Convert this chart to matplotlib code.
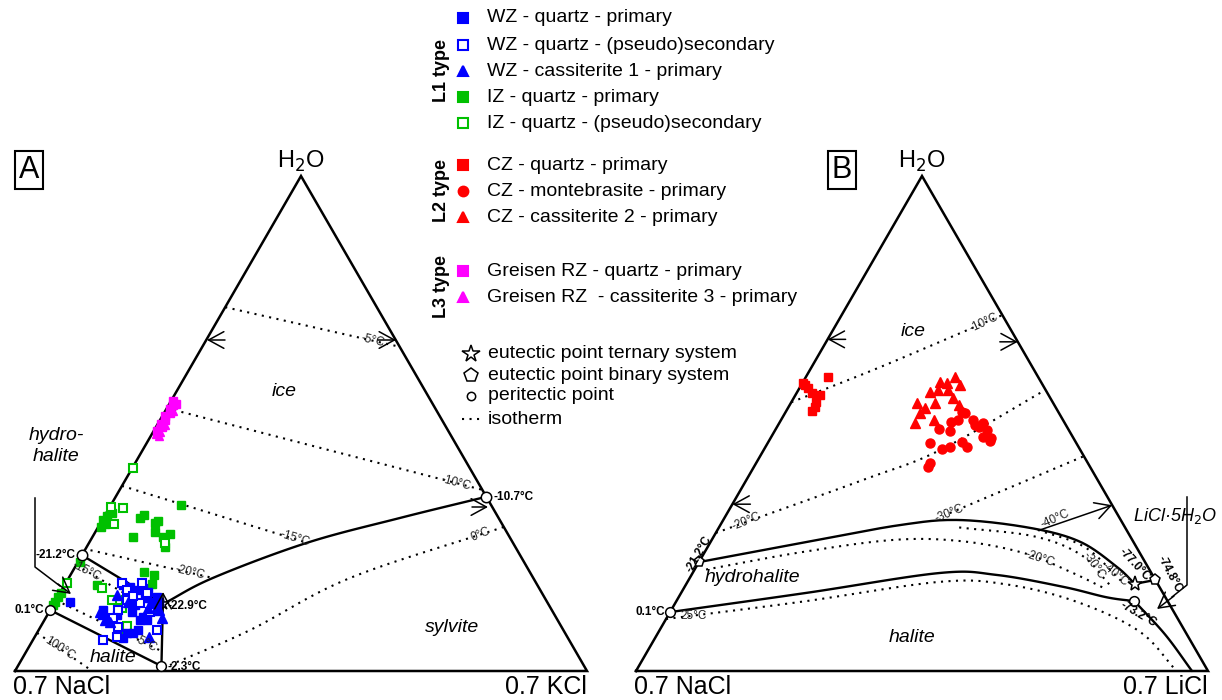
import numpy as np
import matplotlib.pyplot as plt

plt.rcParams['font.family'] = ['Liberation Sans', 'DejaVu Sans']

# triangle geometry (figure pixels)
SIDE, HEIGHT, BASE = 572, 495, 671
X0_A, X0_B = 15, 636

# ---------------- data: (salt2 fraction, H2O fraction) ----------------
# A: NaCl - KCl - H2O  (salt2 = KCl)
wz_qtz_prim = [(0.026, 0.139), (0.102, 0.174), (0.116, 0.170), (0.131, 0.164), (0.140, 0.168),
               (0.153, 0.160), (0.173, 0.149), (0.183, 0.139), (0.170, 0.139), (0.092, 0.123),
               (0.145, 0.119), (0.169, 0.109), (0.179, 0.103), (0.121, 0.113), (0.109, 0.107),
               (0.173, 0.083), (0.168, 0.077), (0.158, 0.077), (0.156, 0.067), (0.173, 0.133),
               (0.183, 0.129), (0.167, 0.103), (0.095, 0.113), (0.153, 0.147), (0.143, 0.133)]
wz_qtz_sec = [(0.098, 0.178), (0.133, 0.178), (0.114, 0.164), (0.152, 0.158), (0.124, 0.143),
              (0.150, 0.137), (0.118, 0.123), (0.117, 0.107), (0.206, 0.083), (0.144, 0.069),
              (0.135, 0.089), (0.123, 0.063), (0.130, 0.152), (0.176, 0.119)]
wz_cst1_prim = [(0.101, 0.154), (0.128, 0.139), (0.089, 0.119), (0.105, 0.103), (0.116, 0.099),
                (0.203, 0.107), (0.199, 0.069), (0.169, 0.127), (0.191, 0.123)]
iz_qtz_prim = [(0.001, 0.305), (0.004, 0.313), (0.010, 0.319), (0.004, 0.291), (0.008, 0.297),
               (0.064, 0.309), (0.068, 0.315), (0.095, 0.299), (0.098, 0.303), (0.105, 0.281),
               (0.133, 0.277), (0.124, 0.271), (0.071, 0.271), (0.137, 0.251), (0.123, 0.335),
               (0.004, 0.220), (0.126, 0.200), (0.146, 0.194), (0.152, 0.176), (0.056, 0.174),
               (0.000, 0.149), (0.000, 0.139), (0.001, 0.158), (0.000, 0.133), (0.149, 0.077),
               (0.150, 0.069)]
iz_qtz_sec = [(0.001, 0.410), (0.002, 0.331), (0.024, 0.329), (0.024, 0.297), (0.133, 0.259),
              (0.002, 0.178), (0.068, 0.168), (0.098, 0.143), (0.122, 0.143), (0.123, 0.127),
              (0.178, 0.125), (0.151, 0.091)]
rz_qtz_prim = [(0.004, 0.545), (0.008, 0.538), (0.006, 0.530), (0.010, 0.522), (0.004, 0.515),
               (0.009, 0.508), (0.006, 0.500), (0.011, 0.492), (0.005, 0.485), (0.012, 0.540)]
rz_cst3_prim = [(0.008, 0.478), (0.014, 0.474), (0.012, 0.482), (0.003, 0.490), (0.013, 0.497),
                (0.013, 0.525)]

# B: NaCl - LiCl - H2O  (salt2 = LiCl)
cz_qtz_prim = [(0.006, 0.578), (0.015, 0.572), (0.027, 0.562), (0.043, 0.558), (0.044, 0.543),
               (0.046, 0.533), (0.046, 0.525), (0.039, 0.594), (0.001, 0.582)]
cz_mbr_prim = [(0.308, 0.523), (0.314, 0.521), (0.300, 0.503), (0.309, 0.507), (0.335, 0.507),
               (0.356, 0.501), (0.344, 0.497), (0.354, 0.493), (0.371, 0.487), (0.286, 0.489),
               (0.306, 0.485), (0.370, 0.473), (0.386, 0.471), (0.386, 0.465), (0.283, 0.461),
               (0.338, 0.463), (0.353, 0.453), (0.322, 0.453), (0.311, 0.448), (0.304, 0.420),
               (0.304, 0.412)]
cz_cst2_prim = [(0.261, 0.594), (0.253, 0.582), (0.239, 0.584), (0.277, 0.578), (0.261, 0.568),
                (0.244, 0.568), (0.232, 0.564), (0.278, 0.552), (0.297, 0.537), (0.252, 0.541),
                (0.220, 0.541), (0.239, 0.531), (0.236, 0.521), (0.237, 0.501), (0.267, 0.507)]

# phase boundaries (A)
a_hh_ice = [(0.0, 0.234), (0.191, 0.135)]
a_hal_hh = [(0.0, 0.123), (0.251, 0.010)]
a_hh_syl = [(0.191, 0.135), (0.251, 0.010)]
a_ice_syl = [(0.191, 0.135), (0.252, 0.188), (0.381, 0.259), (0.518, 0.309), (0.648, 0.352)]
# isotherms (A): (points, label, position along line, rotation)
a_iso = [([(0.0, 0.735), (0.345, 0.655)], '-5°C', 0.84, -13),
         ([(0.0, 0.531), (0.634, 0.366)], '-10°C', 0.91, -15),
         ([(0.0, 0.374), (0.381, 0.259)], '-15°C', 0.93, -17),
         ([(0.01, 0.244), (0.252, 0.188)], '-20°C', 0.82, -13),
         ([(0.0, 0.214), (0.200, 0.113)], '-15°C', 0.12, -27),
         ([(0.0, 0.143), (0.232, 0.042)], '-5°C', 0.86, -27),
         ([(0.0, 0.077), (0.135, 0.0)], '100°C', 0.4, -33),
         ([(0.265, 0.012), (0.370, 0.083), (0.492, 0.188), (0.709, 0.291)], '0°C', 0.95, 22)]

# phase boundaries (B)
b_upper = [(0.0, 0.220), (0.169, 0.261), (0.315, 0.295), (0.413, 0.305), (0.545, 0.289),
           (0.646, 0.261), (0.736, 0.210), (0.784, 0.176)]
b_lower = [(0.0, 0.119), (0.220, 0.158), (0.432, 0.198), (0.534, 0.194), (0.662, 0.170),
           (0.748, 0.149), (0.801, 0.141)]
b_lic_hal = [(0.801, 0.141), (0.889, 0.073), (0.972, 0.0)]
b_star_peri = [(0.784, 0.176), (0.816, 0.184)]
b_iso = [([(0.0, 0.543), (0.120, 0.614), (0.281, 0.719)], '-10°C', 0.93, 25),
         ([(0.0, 0.279), (0.204, 0.386), (0.308, 0.446), (0.432, 0.568)], '-20°C', 0.07, 22),
         ([(0.389, 0.319), (0.566, 0.434)], '-30°C', 0.0, 22),
         ([(0.02, 0.205), (0.169, 0.240), (0.320, 0.265), (0.440, 0.262), (0.560, 0.238),
           (0.660, 0.200), (0.740, 0.165)], '-20°C', 0.72, -18),
         ([(0.420, 0.290), (0.560, 0.272), (0.660, 0.235), (0.740, 0.175)], '-30°C', 0.8, -55),
         ([(0.560, 0.285), (0.660, 0.250), (0.760, 0.180)], '-40°C', 0.9, -40),
         ([(0.0, 0.105), (0.220, 0.140), (0.440, 0.180), (0.560, 0.175), (0.700, 0.140),
           (0.840, 0.080), (0.945, 0.0)], '25°C', 0.03, 0)]

BLUE, GREEN, RED, MAG = '#0000ff', '#00c000', '#ff0000', '#ff00ff'


def tp(s, w, x0):
    s = np.asarray(s, float)
    w = np.asarray(w, float)
    return x0 + (s + w / 2) * SIDE, BASE - w * HEIGHT


def pts(data, x0):
    a = np.array(data, float)
    return tp(a[:, 0], a[:, 1], x0)


def smooth(x, y, n=20):
    P = np.column_stack([x, y])
    if len(P) < 3:
        t = np.linspace(0, 1, 60)[:, None]
        out = P[0] + (P[1] - P[0]) * t
        return out[:, 0], out[:, 1]
    P = np.vstack([2 * P[0] - P[1], P, 2 * P[-1] - P[-2]])
    t = np.linspace(0, 1, n, endpoint=False)[:, None]
    out = []
    for i in range(1, len(P) - 2):
        p0, p1, p2, p3 = P[i - 1], P[i], P[i + 1], P[i + 2]
        out.append(0.5 * (2 * p1 + (-p0 + p2) * t + (2 * p0 - 5 * p1 + 4 * p2 - p3) * t ** 2
                          + (-p0 + 3 * p1 - 3 * p2 + p3) * t ** 3))
    out.append(P[-2][None])
    out = np.vstack(out)
    return out[:, 0], out[:, 1]


fig = plt.figure(figsize=(12.22, 7), dpi=100)
ax = fig.add_axes([0, 0, 1, 1])
ax.set_xlim(0, 1222)
ax.set_ylim(700, 0)
ax.axis('off')

DOT = dict(color='black', lw=1.5, ls=(0, (1, 2.6)))
SOLID = dict(color='black', lw=1.7, solid_capstyle='round')


def draw_line(data, x0, **kw):
    x, y = pts(data, x0)
    x, y = smooth(x, y)
    ax.plot(x, y, **kw)
    return x, y


def iso_label(x, y, txt, frac, rot):
    i = int(round(frac * (len(x) - 1)))
    ax.text(x[i], y[i], txt, fontsize=8.5, color='#222222', rotation=rot,
            ha='center', va='center', rotation_mode='anchor')


for x0, lab_l, lab_r in [(X0_A, '0.7 NaCl', '0.7 KCl'), (X0_B, '0.7 NaCl', '0.7 LiCl')]:
    vx, vy = tp([0, 1, 0, 0], [0, 0, 1, 0], x0)
    ax.plot(vx, vy, color='black', lw=1.8, solid_joinstyle='miter')
    ax.text(vx[0] - 2, 694, lab_l, fontsize=18, ha='left', va='baseline')
    ax.text(vx[1], 694, lab_r, fontsize=18, ha='right', va='baseline')
    ax.text(vx[2], 168, 'H$_2$O', fontsize=17, ha='center', va='baseline')

PT = dict(ls='none', mfc='white', mec='black', mew=1.1)
BOLD = dict(fontsize=8.5, fontweight='bold')
FIELD = dict(fontsize=14, style='italic')
ARW = dict(arrowstyle='->,head_length=0.55,head_width=0.3', color='black', lw=1.1,
           mutation_scale=20, shrinkA=0, shrinkB=0)

# ---------------- triangle A ----------------
for seg in (a_hh_ice, a_hal_hh, a_hh_syl, a_ice_syl):
    draw_line(seg, X0_A, **SOLID)
for seg, txt, frac, rot in a_iso:
    x, y = draw_line(seg, X0_A, **DOT)
    iso_label(x, y, txt, frac, rot)

ax.plot(*tp([0.191], [0.135], X0_A), marker='*', ms=9, **PT)
ax.annotate('', xy=(163, 592), xytext=(163, 608), arrowprops=ARW)

kw_sq = dict(ls='none', marker='s', ms=5.5)
ax.plot(*pts(rz_qtz_prim, X0_A), color=MAG, **kw_sq)
ax.plot(*pts(rz_cst3_prim, X0_A), ls='none', marker='^', ms=6, color=MAG)
ax.plot(*pts(iz_qtz_prim, X0_A), color=GREEN, **kw_sq)
ax.plot(*pts(iz_qtz_sec, X0_A), ls='none', marker='s', ms=6, mfc='white', mec=GREEN, mew=1.5)
ax.plot(*pts(wz_qtz_prim, X0_A), color=BLUE, **kw_sq)
ax.plot(*pts(wz_qtz_sec, X0_A), ls='none', marker='s', ms=6, mfc='white', mec=BLUE, mew=1.5)
ax.plot(*pts(wz_cst1_prim, X0_A), ls='none', marker='^', ms=6.5, color=BLUE)

ax.plot(*tp([0.0, 0.251], [0.123, 0.010], X0_A), marker='o', ms=7, **PT)
ax.plot(*tp([0.0, 0.648], [0.234, 0.352], X0_A), marker='o', ms=7.5, **PT)

ax.text(*tp(0.0, 0.234, X0_A - 6), '-21.2°C', ha='right', va='center', **BOLD)
ax.text(*tp(0.0, 0.123, X0_A - 6), '0.1°C', ha='right', va='center', **BOLD)
ax.text(*tp(0.191, 0.131, X0_A + 6), '-22.9°C', ha='left', va='center', **BOLD)
ax.text(*tp(0.251, 0.008, X0_A + 7), '-2.3°C', ha='left', va='center', **BOLD)
ax.text(*tp(0.648, 0.352, X0_A + 7), '-10.7°C', ha='left', va='center', **BOLD)

ax.text(284, 392, 'ice', ha='center', va='center', **FIELD)
ax.text(56, 446, 'hydro-\nhalite', ha='center', va='center', linespacing=1.35, **FIELD)
ax.text(452, 628, 'sylvite', ha='center', va='center', **FIELD)
ax.text(113, 657, 'halite', ha='center', va='center', **FIELD)

# edge arrows (direction of falling temperature)
for xy, dx in [((207, 340), 18), ((396, 340), -18), ((488, 507), -16)]:
    ax.annotate('', xy=xy, xytext=(xy[0] + dx, xy[1]), arrowprops=ARW)
ax.plot([35, 35, 60], [498, 567, 586], color='black', lw=1.1)
ax.annotate('', xy=(71, 594), xytext=(58, 584), arrowprops=ARW)

# ---------------- triangle B ----------------
for seg in (b_upper, b_lower, b_lic_hal, b_star_peri):
    draw_line(seg, X0_B, **SOLID)
for seg, txt, frac, rot in b_iso:
    x, y = draw_line(seg, X0_B, **DOT)
    iso_label(x, y, txt, frac, rot)

ax.plot(*pts(cz_qtz_prim, X0_B), color=RED, **kw_sq)
ax.plot(*pts(cz_mbr_prim, X0_B), ls='none', marker='o', ms=6.5, color=RED)
ax.plot(*pts(cz_cst2_prim, X0_B), ls='none', marker='^', ms=7, color=RED)

ax.plot(*tp([0.0, 0.801], [0.119, 0.141], X0_B), marker='o', ms=7, **PT)
ax.plot(*tp([0.0, 0.816], [0.220, 0.184], X0_B), marker='p', ms=8, **PT)
ax.plot(*tp([0.784], [0.176], X0_B), marker='*', ms=11, **PT)

ax.text(*tp(0.0, 0.236, X0_B - 5), '-21.2°C', ha='center', va='center', rotation=60, **BOLD)
ax.text(*tp(0.0, 0.119, X0_B - 5), '0.1°C', ha='right', va='center', **BOLD)
ax.text(*tp(0.764, 0.215, X0_B), '-77.0°C', ha='center', va='center', rotation=-47, **BOLD)
ax.text(*tp(0.836, 0.195, X0_B), '-74.8°C', ha='center', va='center', rotation=-62, **BOLD)
ax.text(*tp(0.820, 0.115, X0_B), '-73.2°C', ha='center', va='center', rotation=-30, **BOLD)

ax.text(913, 332, 'ice', ha='center', va='center', **FIELD)
ax.text(752, 578, 'hydrohalite', ha='center', va='center', **FIELD)
ax.text(912, 638, 'halite', ha='center', va='center', **FIELD)
ax.text(1175, 516, 'LiCl·5H$_2$O', ha='center', va='center', fontsize=13,
        style='italic', math_fontfamily='dejavusans')

for xy, dx in [(tp(0.0, 0.337, X0_B), 18), (tp(0.335, 0.665, X0_B), -18),
               (tp(0.0, 0.670, X0_B), 18)]:
    ax.annotate('', xy=xy, xytext=(xy[0] + dx, xy[1]), arrowprops=ARW)
ax.annotate('', xy=tp(0.665, 0.335, X0_B), xytext=tp(0.564, 0.285, X0_B), arrowprops=ARW)
ax.text(1055, 519, '-40°C', fontsize=8.5, color='#222222', rotation=24, ha='center', va='center')
ax.plot([1187, 1187, 1172], [497, 585, 597], color='black', lw=1.1)
ax.annotate('', xy=(1157, 609), xytext=(1174, 596), arrowprops=ARW)

# panel letters
for x, t in [(29, 'A'), (842, 'B')]:
    ax.text(x, 170, t, fontsize=22, ha='center', va='center',
            bbox=dict(boxstyle='square,pad=0.12', fc='white', ec='black', lw=1.5))

# ---------------- legend ----------------
leg_rows = [(18, 's', BLUE, BLUE, 'WZ - quartz - primary'),
            (45, 's', 'white', BLUE, 'WZ - quartz - (pseudo)secondary'),
            (71, '^', BLUE, BLUE, 'WZ - cassiterite 1 - primary'),
            (97, 's', GREEN, GREEN, 'IZ - quartz - primary'),
            (123, 's', 'white', GREEN, 'IZ - quartz - (pseudo)secondary'),
            (165, 's', RED, RED, 'CZ - quartz - primary'),
            (191, 'o', RED, RED, 'CZ - montebrasite - primary'),
            (217, '^', RED, RED, 'CZ - cassiterite 2 - primary'),
            (271, 's', MAG, MAG, 'Greisen RZ - quartz - primary'),
            (297, '^', MAG, MAG, 'Greisen RZ  - cassiterite 3 - primary')]
for y, m, fc, ec, txt in leg_rows:
    ax.plot(463, y, marker=m, ms=7, mfc=fc, mec=ec, mew=1.5)
    ax.text(487, y, txt, fontsize=14, ha='left', va='center')
for y, txt in [(70, 'L1 type'), (190, 'L2 type'), (287, 'L3 type')]:
    ax.text(441, y, txt, fontsize=13, fontweight='bold', rotation=90, ha='center', va='center')

ax.plot(471, 354, marker='*', ms=13, **PT)
ax.plot(471, 375, marker='p', ms=10, **PT)
ax.plot(471, 396, marker='o', ms=6, **PT)
ax.plot([462, 482], [419, 419], **DOT)
for y, txt in [(354, 'eutectic point ternary system'), (375, 'eutectic point binary system'),
               (396, 'peritectic point'), (419, 'isotherm')]:
    ax.text(488, y, txt, fontsize=14, ha='left', va='center')

fig.savefig('out.png', dpi=100)
